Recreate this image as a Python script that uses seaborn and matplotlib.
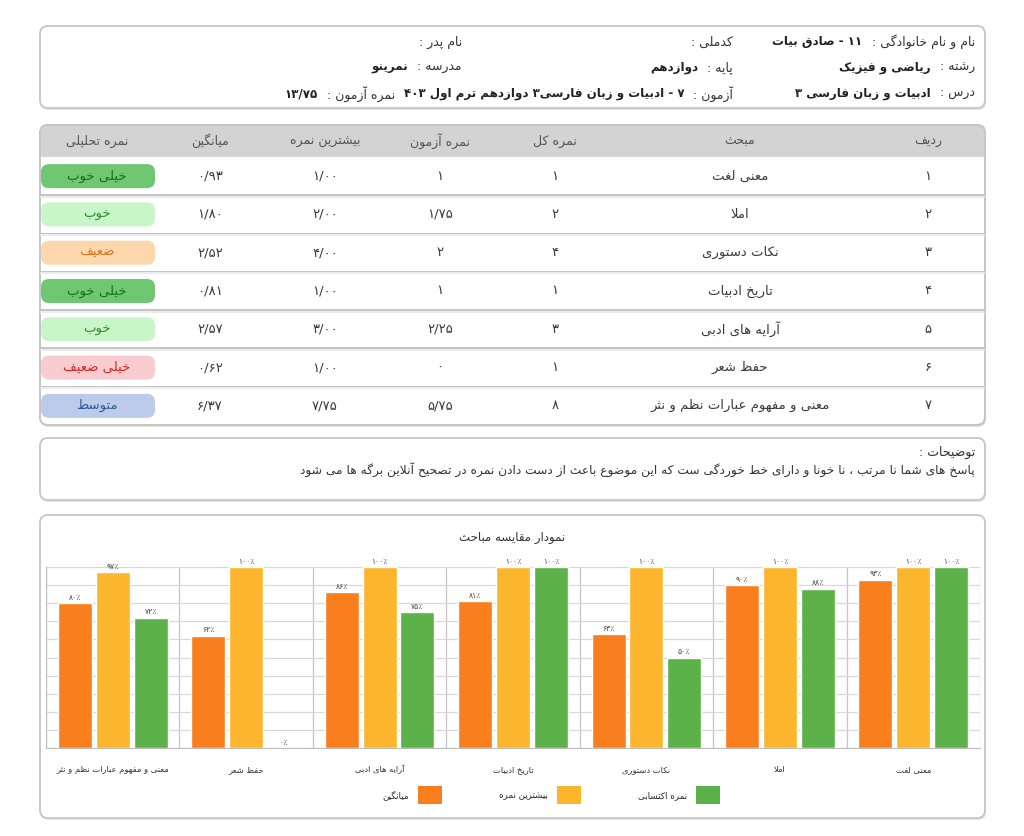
import numpy as np
import pandas as pd
import seaborn as sns
import matplotlib
matplotlib.use('Agg')
import matplotlib.pyplot as plt
from matplotlib.patches import FancyBboxPatch, Rectangle, Patch

# ---- data ----
header_labels = [['نام و نام خانوادگی :', 'کدملی :', 'نام پدر :'],
                 ['رشته :', 'پایه :', 'مدرسه :'],
                 ['درس :', 'آزمون :', 'نمره آزمون :']]
header_values = [['۱۱ - صادق بیات', '', ''],
                 ['ریاضی و فیزیک', 'دوازدهم', 'نمرینو'],
                 ['ادبیات و زبان فارسی ۳', '۷ - ادبیات و زبان فارسی۳ دوازدهم ترم اول ۴۰۳', '۱۳/۷۵']]

table_cols = ['ردیف', 'مبحث', 'نمره کل', 'نمره آزمون', 'بیشترین نمره', 'میانگین', 'نمره تحلیلی']
topics = ['معنی لغت', 'املا', 'نکات دستوری', 'تاریخ ادبیات', 'آرایه های ادبی', 'حفظ شعر',
          'معنی و مفهوم عبارات نظم و نثر']
total_score = [1, 2, 4, 1, 3, 1, 8]
exam_score = [1, 1.75, 2, 1, 2.25, 0, 5.75]
max_score = [1.00, 2.00, 4.00, 1.00, 3.00, 1.00, 7.75]
mean_score = [0.93, 1.80, 2.52, 0.81, 2.57, 0.62, 6.37]
analysis = ['خیلی خوب', 'خوب', 'ضعیف', 'خیلی خوب', 'خوب', 'خیلی ضعیف', 'متوسط']

notes_title = 'توضیحات :'
notes_text = 'پاسخ های شما نا مرتب ، نا خونا و دارای خط خوردگی ست که این موضوع باعث از دست دادن نمره در تصحیح آنلاین برگه ها می شود'

chart_title = 'نمودار مقایسه مباحث'
series_names = ['میانگین', 'بیشترین نمره', 'نمره اکتسابی']
pct_mean = [93, 90, 63, 81, 86, 62, 80]
pct_max = [100, 100, 100, 100, 100, 100, 97]
pct_earned = [100, 88, 50, 100, 75, 0, 72]

series_colors = ['#f97f1e', '#fcb52c', '#5cb148']
pill_styles = {'خیلی خوب': ('#6fc772', '#156f1a'),
               'خوب': ('#c9f6c9', '#2b8f2b'),
               'ضعیف': ('#ffd7ac', '#d9731e'),
               'خیلی ضعیف': ('#f9cdd0', '#d42424'),
               'متوسط': ('#bccbeb', '#2c5d96')}

# ---- minimal persian shaping + rtl ordering ----
FORMS = {}
for ch, base, n in [('ء', 0xFE80, 1), ('آ', 0xFE81, 2), ('أ', 0xFE83, 2), ('ؤ', 0xFE85, 2),
                    ('إ', 0xFE87, 2), ('ئ', 0xFE89, 4), ('ا', 0xFE8D, 2), ('ب', 0xFE8F, 4),
                    ('ة', 0xFE93, 2), ('ت', 0xFE95, 4), ('ث', 0xFE99, 4), ('ج', 0xFE9D, 4),
                    ('ح', 0xFEA1, 4), ('خ', 0xFEA5, 4), ('د', 0xFEA9, 2), ('ذ', 0xFEAB, 2),
                    ('ر', 0xFEAD, 2), ('ز', 0xFEAF, 2), ('س', 0xFEB1, 4), ('ش', 0xFEB5, 4),
                    ('ص', 0xFEB9, 4), ('ض', 0xFEBD, 4), ('ط', 0xFEC1, 4), ('ظ', 0xFEC5, 4),
                    ('ع', 0xFEC9, 4), ('غ', 0xFECD, 4), ('ف', 0xFED1, 4), ('ق', 0xFED5, 4),
                    ('ك', 0xFED9, 4), ('ل', 0xFEDD, 4), ('م', 0xFEE1, 4), ('ن', 0xFEE5, 4),
                    ('ه', 0xFEE9, 4), ('و', 0xFEED, 2), ('ى', 0xFEEF, 2), ('ي', 0xFEF1, 4),
                    ('پ', 0xFB56, 4), ('چ', 0xFB7A, 4), ('ژ', 0xFB8A, 2), ('ک', 0xFB8E, 4),
                    ('گ', 0xFB92, 4), ('ی', 0xFBFC, 4)]:
    FORMS[ch] = tuple(chr(base + k) for k in range(n))
LAM_ALEF = {'ا': ('\uFEFB', '\uFEFC'), 'آ': ('\uFEF5', '\uFEF6')}
DIGITS = set('۰۱۲۳۴۵۶۷۸۹0123456789')


def shape(s):
    out = []
    i = 0
    while i < len(s):
        c = s[i]
        if c not in FORMS:
            out.append(c)
            i += 1
            continue
        prev = s[i - 1] if i > 0 else None
        joins_prev = prev in FORMS and len(FORMS[prev]) == 4 and len(FORMS[c]) > 1
        if c == 'ل' and i + 1 < len(s) and s[i + 1] in LAM_ALEF:
            out.append(LAM_ALEF[s[i + 1]][1 if joins_prev else 0])
            i += 2
            continue
        nxt = s[i + 1] if i + 1 < len(s) else None
        f = FORMS[c]
        joins_next = len(f) == 4 and nxt in FORMS and len(FORMS[nxt]) > 1
        if joins_prev and joins_next:
            out.append(f[3])
        elif joins_prev:
            out.append(f[1])
        elif joins_next:
            out.append(f[2])
        else:
            out.append(f[0])
        i += 1
    return ''.join(out)


def fa(s):
    s = shape(s)
    runs = []
    i = 0
    while i < len(s):
        j = i
        if s[i] in DIGITS:
            while j < len(s) and (s[j] in DIGITS or s[j] == '٪' or
                                  (s[j] == '/' and j + 1 < len(s) and s[j + 1] in DIGITS)):
                j += 1
            runs.append(s[i:j])
        else:
            while j < len(s) and s[j] not in DIGITS:
                j += 1
            runs.append(s[i:j][::-1])
        i = j
    return ''.join(runs[::-1])


def fnum(v, dec=None):
    if dec is None:
        txt = ('%d' % v) if float(v).is_integer() else ('%.2f' % v)
    else:
        txt = '%.*f' % (dec, v)
    return txt.replace('.', '/').translate(str.maketrans('0123456789', '۰۱۲۳۴۵۶۷۸۹'))


# ---- figure ----
sns.set_style('white')
plt.rcParams['font.family'] = ['DejaVu Sans']

fig = plt.figure(figsize=(10.24, 8.36), dpi=100)
fig.patch.set_facecolor('white')
bg = fig.add_axes([0, 0, 1, 1])
bg.set_xlim(0, 1024)
bg.set_ylim(836, 0)
bg.axis('off')


def panel(x0, y0, x1, y1, fc='white'):
    bg.add_patch(FancyBboxPatch((x0 + 1, y0 + 2), x1 - x0, y1 - y0,
                                boxstyle='round,pad=0,rounding_size=8', fc='#e4e4e4', ec='none'))
    bg.add_patch(FancyBboxPatch((x0, y0), x1 - x0, y1 - y0,
                                boxstyle='round,pad=0,rounding_size=8', fc=fc, ec='#c6c6c6', lw=1.3))


TXT = '#333333'

# header
panel(40, 26, 985, 108)
fig.canvas.draw()
renderer = fig.canvas.get_renderer()
col_right = [975, 733, 462]
col_right_r3 = [975, 733, 395]
for r in range(3):
    y = 42 + r * 26
    for c in range(3):
        xr = col_right_r3[c] if r == 2 else col_right[c]
        t = bg.text(xr, y, fa(header_labels[r][c]), ha='right', va='center', fontsize=9, color=TXT)
        if header_values[r][c]:
            bb = t.get_window_extent(renderer)
            xl = bb.x0 - 9
            bg.text(xl, y, fa(header_values[r][c]), ha='right', va='center', fontsize=8.6,
                    fontweight='bold', color='#222222')

# table
tx0, tx1, ty0, ty1 = 40, 985, 125, 425
head_h = 32
row_h = (ty1 - ty0 - head_h) / len(topics)
panel(tx0, ty0, tx1, ty1)
bg.add_patch(FancyBboxPatch((tx0, ty0), tx1 - tx0, head_h + 10,
                            boxstyle='round,pad=0,rounding_size=8', fc='#d3d3d3', ec='none'))
bg.add_patch(Rectangle((tx0 + 0.7, ty0 + head_h), tx1 - tx0 - 1.4, 12, fc='white', ec='none'))
col_x = [928, 740, 555, 440, 325, 210, 97]
for name, x in zip(table_cols, col_x):
    bg.text(x, ty0 + head_h / 2, fa(name), ha='center', va='center', fontsize=9, color='#555555')

for i in range(len(topics)):
    yc = ty0 + head_h + (i + 0.5) * row_h
    if i < len(topics) - 1:
        yl = ty0 + head_h + (i + 1) * row_h
        bg.plot([tx0 + 1, tx1 - 1], [yl, yl], color='#c3c3c3', lw=1.4)
        bg.plot([tx0 + 1, tx1 - 1], [yl + 1.5, yl + 1.5], color='#ececec', lw=1.5)
    cells = [fnum(i + 1), topics[i], fnum(total_score[i]), fnum(exam_score[i]),
             fnum(max_score[i], 2), fnum(mean_score[i], 2)]
    for val, x in zip(cells, col_x[:6]):
        bg.text(x, yc, fa(val), ha='center', va='center', fontsize=9.5, color='#3a3a3a')
    pfc, ptc = pill_styles[analysis[i]]
    bg.add_patch(FancyBboxPatch((41, yc - 12), 114, 24,
                                boxstyle='round,pad=0,rounding_size=8', fc=pfc, ec='none'))
    bg.text(97, yc, fa(analysis[i]), ha='center', va='center', fontsize=9.5, color=ptc)
bg.add_patch(FancyBboxPatch((tx0, ty0), tx1 - tx0, ty1 - ty0,
                            boxstyle='round,pad=0,rounding_size=8', fc='none', ec='#c6c6c6', lw=1.3))

# notes
panel(40, 438, 985, 500)
bg.text(975, 452, fa(notes_title), ha='right', va='center', fontsize=9, color=TXT)
bg.text(975, 470, fa(notes_text), ha='right', va='center', fontsize=8.8, color=TXT)

# chart panel
panel(40, 515, 985, 818)
bg.text(512, 537, fa(chart_title), ha='center', va='center', fontsize=8.5, color=TXT)

order = topics[::-1]
df = pd.DataFrame({
    'topic': topics * 3,
    'series': [series_names[0]] * 7 + [series_names[1]] * 7 + [series_names[2]] * 7,
    'pct': pct_mean + pct_max + pct_earned,
})

ax = fig.add_axes([46 / 1024, 1 - 748 / 836, (980 - 46) / 1024, (748 - 567) / 836])
ax.set_facecolor('none')
sns.barplot(data=df, x='topic', y='pct', hue='series', order=order, hue_order=series_names,
            palette=dict(zip(series_names, series_colors)), errorbar=None, width=0.85, gap=0.1,
            saturation=1, legend=False, ax=ax, zorder=3)
ax.set_ylim(0, 100)
ax.set_xlim(-0.5, len(order) - 0.5)
ax.set_yticks(np.arange(0, 101, 10))
ax.set_yticklabels([])
ax.set_xticks(np.arange(len(order)))
ax.set_xticklabels([fa(t) for t in order], fontsize=6, color='#333333')
ax.set_xticks(np.arange(-0.5, len(order), 1), minor=True)
ax.tick_params(axis='both', which='both', length=0)
ax.tick_params(axis='x', pad=12)
ax.yaxis.grid(True, color='#d8d8d8', lw=0.9, zorder=0)
ax.xaxis.grid(True, which='minor', color='#c4c4c4', lw=0.9, zorder=0)
ax.xaxis.grid(False, which='major')
ax.set_axisbelow(True)
for side in ['top', 'right']:
    ax.spines[side].set_visible(False)
for side in ['left', 'bottom']:
    ax.spines[side].set_color('#bdbdbd')
ax.set_xlabel('')
ax.set_ylabel('')

for cont in ax.containers:
    ax.bar_label(cont, labels=[fnum(int(round(v))) + '٪' for v in cont.datavalues],
                 fontsize=5.5, padding=1, color='#444444')

handles = [Patch(facecolor=c, edgecolor='none') for c in series_colors]
fig.legend(handles, [fa(s) for s in series_names], loc='center', bbox_to_anchor=(551 / 1024, 1 - 795 / 836),
           ncol=3, markerfirst=False, frameon=False, fontsize=6.3, handlelength=2.7, handleheight=2.7,
           handletextpad=1.1, columnspacing=6.5)

fig.savefig('out.png', dpi=100, facecolor='white')
